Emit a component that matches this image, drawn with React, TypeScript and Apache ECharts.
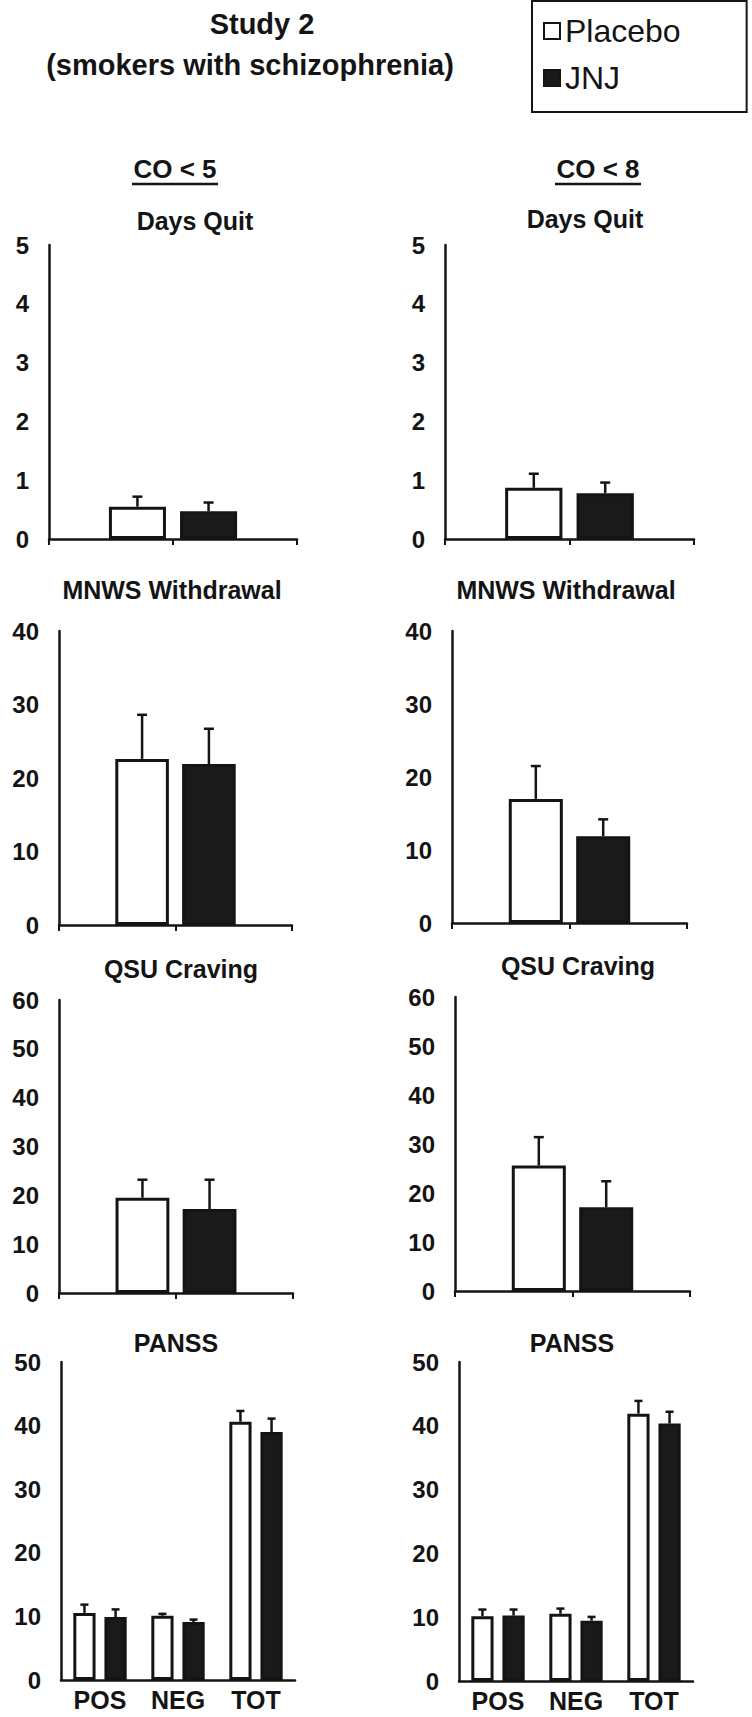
import React, { useEffect, useRef } from 'react';
import * as echarts from 'echarts';

const FONT = '"Liberation Sans", Arial, Helvetica, sans-serif';
const INK = '#141414';

// ---------------- data ----------------
const groupNames = ['Placebo', 'JNJ'];
const panssCategories = ['POS', 'NEG', 'TOT'];

// [Placebo, JNJ]
const daysQuitCO5Mean = [0.55, 0.47];
const daysQuitCO5Err = [0.17, 0.15];
const daysQuitCO8Mean = [0.87, 0.78];
const daysQuitCO8Err = [0.24, 0.18];

const mnwsCO5Mean = [22.6, 21.9];
const mnwsCO5Err = [6.0, 4.8];
const mnwsCO8Mean = [17.0, 11.9];
const mnwsCO8Err = [4.5, 2.3];

const qsuCO5Mean = [19.5, 17.2];
const qsuCO5Err = [3.7, 6.0];
const qsuCO8Mean = [25.6, 17.1];
const qsuCO8Err = [5.8, 5.3];

// [POS, NEG, TOT]
const panssCO5Placebo = [10.55, 10.1, 40.6];
const panssCO5PlaceboErr = [1.3, 0.3, 1.7];
const panssCO5JNJ = [9.9, 9.1, 39.0];
const panssCO5JNJErr = [1.2, 0.4, 2.1];
const panssCO8Placebo = [10.15, 10.55, 41.9];
const panssCO8PlaceboErr = [1.05, 0.8, 2.0];
const panssCO8JNJ = [10.25, 9.45, 40.35];
const panssCO8JNJErr = [0.95, 0.6, 1.85];

const panelTitles = ['Days Quit', 'MNWS Withdrawal', 'QSU Craving', 'PANSS'];
const columnTitles = ['CO < 5', 'CO < 8'];
const yMaxByRow = [5, 40, 60, 50];
const yStepByRow = [1, 10, 10, 10];

// ---------------- layout ----------------
const PAIR_BAR_W = 0.46;
const PAIR_BAR_GAP = -0.073;
const PAIR_OFFSET = (PAIR_BAR_W * (1 + PAIR_BAR_GAP)) / 2;
const PANSS_BAR_W = 0.285;
const PANSS_BAR_GAP = 0.4;
const PANSS_OFFSET = (PANSS_BAR_W * (1 + PANSS_BAR_GAP)) / 2;

type Panel = {
  row: number;
  grid: { left: number; top: number; width: number; height: number };
  title: [number, number];
  mean?: number[];
  err?: number[];
  pl?: number[];
  plErr?: number[];
  jn?: number[];
  jnErr?: number[];
};

const panels: Panel[] = [
  { row: 0, grid: { left: 49, top: 245, width: 248, height: 294 }, title: [195, 221], mean: daysQuitCO5Mean, err: daysQuitCO5Err },
  { row: 0, grid: { left: 445, top: 245, width: 249, height: 294 }, title: [585, 219], mean: daysQuitCO8Mean, err: daysQuitCO8Err },
  { row: 1, grid: { left: 59, top: 631, width: 233, height: 294 }, title: [172, 590], mean: mnwsCO5Mean, err: mnwsCO5Err },
  { row: 1, grid: { left: 452, top: 631, width: 235, height: 292 }, title: [566, 590], mean: mnwsCO8Mean, err: mnwsCO8Err },
  { row: 2, grid: { left: 59, top: 1000, width: 234, height: 293 }, title: [181, 969], mean: qsuCO5Mean, err: qsuCO5Err },
  { row: 2, grid: { left: 455, top: 997, width: 235, height: 294 }, title: [578, 966], mean: qsuCO8Mean, err: qsuCO8Err },
  { row: 3, grid: { left: 61, top: 1362, width: 234, height: 318 }, title: [176, 1343], pl: panssCO5Placebo, plErr: panssCO5PlaceboErr, jn: panssCO5JNJ, jnErr: panssCO5JNJErr },
  { row: 3, grid: { left: 459, top: 1362, width: 234, height: 319 }, title: [572, 1343], pl: panssCO8Placebo, plErr: panssCO8PlaceboErr, jn: panssCO8JNJ, jnErr: panssCO8JNJErr },
];

const placeboStyle = { color: '#ffffff', borderColor: INK, borderWidth: 3 };
const jnjStyle = { color: '#1a1a1a', borderColor: INK, borderWidth: 3 };

function errorRenderer(offsetFrac: number, capHalf: number) {
  return (params: any, api: any) => {
    const ci = api.value(0);
    const v = api.value(1);
    const e = api.value(2);
    const side = api.value(3);
    const band = api.size([1, 0])[0];
    const p0 = api.coord([ci, v]);
    const p1 = api.coord([ci, v + e]);
    const x = p0[0] + side * offsetFrac * band;
    const style = { stroke: INK, lineWidth: 2.5 };
    return {
      type: 'group',
      children: [
        { type: 'line', shape: { x1: x, y1: p0[1], x2: x, y2: p1[1] }, style },
        { type: 'line', shape: { x1: x - capHalf, y1: p1[1], x2: x + capHalf, y2: p1[1] }, style },
      ],
    };
  };
}

function centeredText(text: string, x: number, y: number, size: number, weight = 'bold') {
  return {
    type: 'text', x, y,
    style: {
      text, fill: INK, fontFamily: FONT, fontWeight: weight, fontSize: size,
      textAlign: 'center', textVerticalAlign: 'middle', align: 'center', verticalAlign: 'middle',
    },
  };
}

function buildOption() {
  const grid: any[] = [];
  const xAxis: any[] = [];
  const yAxis: any[] = [];
  const series: any[] = [];
  const graphic: any[] = [];

  const axisLine = { show: true, lineStyle: { color: INK, width: 2.5 } };

  panels.forEach((p, i) => {
    grid.push({ ...p.grid, containLabel: false, outerBoundsMode: 'none' });
    const isPanss = p.row === 3;
    xAxis.push({
      type: 'category',
      gridIndex: i,
      data: isPanss ? panssCategories : ['', ''],
      axisLine,
      axisTick: isPanss
        ? { show: false }
        : { show: true, length: 6, lineStyle: { color: INK, width: 2 } },
      axisLabel: isPanss
        ? { show: true, margin: 7, color: INK, fontFamily: FONT, fontWeight: 'bold', fontSize: 25 }
        : { show: false },
      splitLine: { show: false },
    });
    yAxis.push({
      type: 'value',
      gridIndex: i,
      min: 0,
      max: yMaxByRow[p.row],
      interval: yStepByRow[p.row],
      axisLine,
      axisTick: { show: false },
      splitLine: { show: false },
      axisLabel: { margin: 20, color: INK, fontFamily: FONT, fontWeight: 'bold', fontSize: 24 },
    });

    if (!isPanss) {
      const m = p.mean as number[];
      const e = p.err as number[];
      series.push({
        type: 'bar', name: groupNames[1], xAxisIndex: i, yAxisIndex: i,
        data: ['-', m[1]], barWidth: PAIR_BAR_W * 100 + '%', barGap: PAIR_BAR_GAP * 100 + '%',
        itemStyle: jnjStyle, silent: true,
      });
      series.push({
        type: 'bar', name: groupNames[0], xAxisIndex: i, yAxisIndex: i,
        data: [m[0], '-'], barWidth: PAIR_BAR_W * 100 + '%', barGap: PAIR_BAR_GAP * 100 + '%',
        itemStyle: placeboStyle, silent: true,
      });
      series.push({
        type: 'custom', name: 'SEM', xAxisIndex: i, yAxisIndex: i, silent: true, z: 5,
        renderItem: errorRenderer(PAIR_OFFSET, 5),
        encode: { x: 0, y: 1 },
        data: [
          [0, m[0], e[0], 1],
          [1, m[1], e[1], -1],
        ],
      });
    } else {
      const pl = p.pl as number[];
      const jn = p.jn as number[];
      series.push({
        type: 'bar', name: groupNames[0], xAxisIndex: i, yAxisIndex: i,
        data: pl, barWidth: PANSS_BAR_W * 100 + '%', barGap: PANSS_BAR_GAP * 100 + '%',
        itemStyle: placeboStyle, silent: true,
      });
      series.push({
        type: 'bar', name: groupNames[1], xAxisIndex: i, yAxisIndex: i,
        data: jn, barWidth: PANSS_BAR_W * 100 + '%', barGap: PANSS_BAR_GAP * 100 + '%',
        itemStyle: jnjStyle, silent: true,
      });
      const errData: number[][] = [];
      panssCategories.forEach((_, k) => {
        errData.push([k, pl[k], (p.plErr as number[])[k], -1]);
        errData.push([k, jn[k], (p.jnErr as number[])[k], 1]);
      });
      series.push({
        type: 'custom', name: 'SEM', xAxisIndex: i, yAxisIndex: i, silent: true, z: 5,
        renderItem: errorRenderer(PANSS_OFFSET, 4),
        encode: { x: 0, y: 1 },
        data: errData,
      });
    }

    graphic.push(centeredText(panelTitles[p.row], p.title[0], p.title[1], 25));
  });

  // main title
  graphic.push(centeredText('Study 2', 262, 24, 29));
  graphic.push(centeredText('(smokers with schizophrenia)', 250, 65, 29));

  // column headers with underline
  const colX = [175, 598];
  columnTitles.forEach((t, k) => {
    graphic.push(centeredText(t, colX[k], 169, 26));
    graphic.push({
      type: 'line',
      shape: { x1: colX[k] - 43, y1: 184, x2: colX[k] + 43, y2: 184 },
      style: { stroke: INK, lineWidth: 2.5 },
    });
  });

  return {
    animation: false,
    backgroundColor: '#ffffff',
    legend: {
      data: groupNames,
      orient: 'vertical',
      left: 532,
      top: 1,
      padding: [14, 66, 18, 11],
      itemGap: 15,
      itemWidth: 16,
      itemHeight: 16,
      icon: 'rect',
      selectedMode: false,
      borderColor: INK,
      borderWidth: 2,
      borderRadius: 0,
      itemStyle: { borderWidth: 2 },
      textStyle: { color: INK, fontFamily: FONT, fontSize: 32 },
    },
    grid,
    xAxis,
    yAxis,
    series,
    graphic,
  };
}

export default function App() {
  const ref = useRef<HTMLDivElement>(null);
  useEffect(() => {
    if (!ref.current) return;
    const chart = echarts.init(ref.current, undefined, { renderer: 'svg' });
    chart.setOption(buildOption() as any);
    return () => chart.dispose();
  }, []);
  return (
    <div
      ref={ref}
      style={{ position: 'absolute', left: 0, top: 0, width: 752, height: 1717, background: '#fff' }}
    />
  );
}
